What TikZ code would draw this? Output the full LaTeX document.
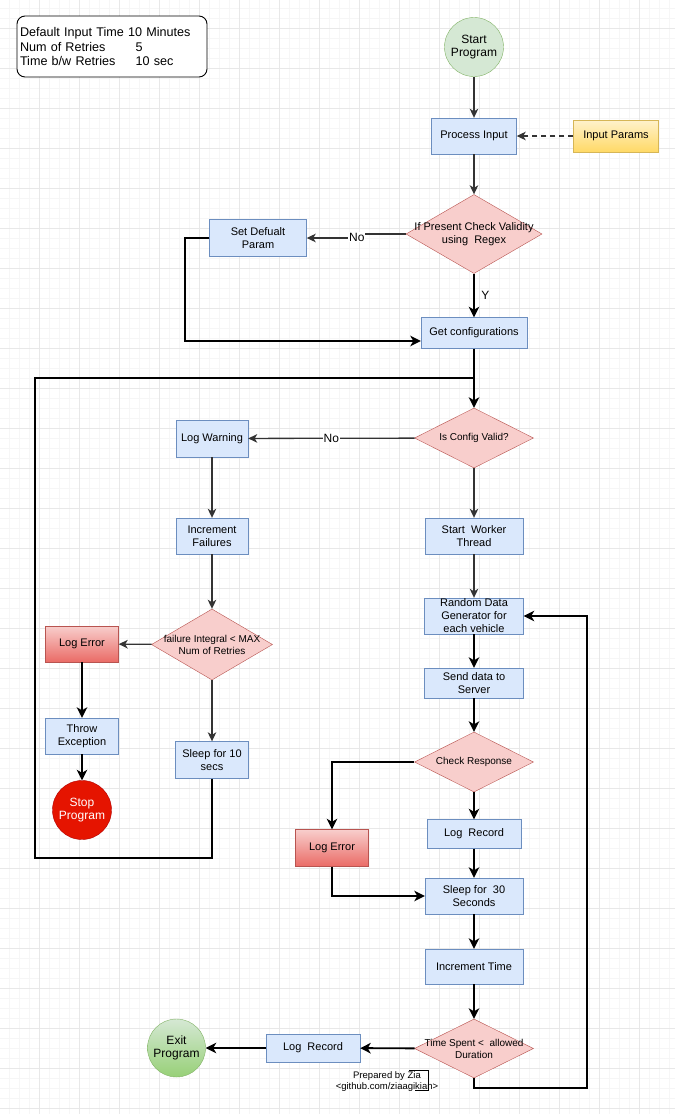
\documentclass[tikz,border=0pt]{standalone}
\usepackage{fontspec}
\setmainfont{Liberation Sans}
\usetikzlibrary{arrows.meta,shapes.geometric}

\definecolor{boxfill}{HTML}{DAE8FC}
\definecolor{boxline}{HTML}{6C8EBF}
\definecolor{decfill}{HTML}{F8CECC}
\definecolor{decline}{HTML}{B85450}
\definecolor{errbot}{HTML}{EA6B66}
\definecolor{inptop}{HTML}{FFF2CC}
\definecolor{inpbot}{HTML}{FFD966}
\definecolor{inpline}{HTML}{D6B656}
\definecolor{okfill}{HTML}{D5E8D4}
\definecolor{okbot}{HTML}{97D077}
\definecolor{okline}{HTML}{82B366}
\definecolor{stopfill}{HTML}{E51400}
\definecolor{stopline}{HTML}{B20000}
\definecolor{flowgray}{HTML}{333333}
\definecolor{gminor}{HTML}{F6F6F6}
\definecolor{gmajor}{HTML}{E8E8E8}

\tikzset{
  pbox/.style={draw=boxline, fill=boxfill, align=center, inner sep=0pt,
    font=\fontsize{11}{13}\selectfont},
  ebox/.style={pbox, draw=decline, top color=decfill, bottom color=errbot},
  dbox/.style={diamond, draw=decline, fill=decfill, inner sep=0pt},
  dtxt/.style={align=center, font=\fontsize{10}{12}\selectfont},
  term/.style={circle, inner sep=0pt, minimum size=59pt, align=center,
    font=\fontsize{12}{13.6}\selectfont},
  lbl/.style={fill=white, inner sep=1pt, font=\fontsize{12}{14}\selectfont},
  flow/.style={draw=flowgray, line width=1.3pt,
    -{Stealth[length=9pt, width=8.5pt, inset=2.5pt]}},
  bflow/.style={draw=black, line width=1.9pt,
    -{Stealth[length=10.5pt, width=10.5pt, inset=3pt]}},
  bline/.style={draw=black, line width=1.9pt},
}

\begin{document}
\begin{tikzpicture}[x=1pt, y=-1pt]
\useasboundingbox (0,0) rectangle (675,1114);
\fill[white] (0,0) rectangle (675,1114);
% grid
\foreach \x in {9,19,...,669} \draw[gminor, line width=0.8pt] (\x,0) -- (\x,1114);
\foreach \y in {8,18,...,1108} \draw[gminor, line width=0.8pt] (0,\y) -- (675,\y);
\foreach \x in {39,79,...,639} \draw[gmajor, line width=0.8pt] (\x,0) -- (\x,1114);
\foreach \y in {28,68,...,1108} \draw[gmajor, line width=0.8pt] (0,\y) -- (675,\y);

% legend
\node[draw, fill=white, rounded corners=8pt, line width=0.9pt, minimum width=190pt,
  minimum height=61pt, inner sep=0pt, text width=184pt, align=left,
  font=\fontsize{12.6}{14.5}\selectfont] (legend) at (112,46.5)
  {Default Input Time 10 Minutes\\
   \makebox[115.7pt][l]{Num of Retries}5\\
   \makebox[115.7pt][l]{Time b/w Retries}10 sec};

% top part
\node[term, draw=okline, fill=okfill] (start) at (474,47) {Start\\Program};
\node[pbox, minimum width=85pt, minimum height=36pt] (procin) at (474,136) {Process Input};
\node[pbox, draw=inpline, top color=inptop, bottom color=inpbot,
  minimum width=85pt, minimum height=32pt] (params) at (616,136) {Input Params};
\node[dbox, minimum width=136pt, minimum height=79pt,
  label={[align=center, font=\fontsize{11}{13.3}\selectfont]center:If Present Check Validity\\using\ \ Regex}]
  (check) at (474,234) {};
\node[pbox, minimum width=97pt, minimum height=37pt] (setdef) at (258,238) {Set Defualt\\Param};
\node[pbox, minimum width=106pt, minimum height=31pt] (getcfg) at (474,333) {Get configurations};
\coordinate (join) at (474,378);

% config check
\node[dbox, minimum width=119pt, minimum height=60pt,
  label={[dtxt]center:Is Config Valid?}] (cfgok) at (474,438) {};
\node[pbox, minimum width=72pt, minimum height=37pt] (logwarn) at (212,438.5) {Log Warning};
\node[pbox, minimum width=72pt, minimum height=36pt] (incfail) at (212,536) {Increment\\Failures};
\node[pbox, minimum width=98pt, minimum height=36pt] (worker) at (474,536) {Start\ \ Worker\\Thread};

% retry branch
\node[dbox, minimum width=121pt, minimum height=71pt,
  label={[dtxt]center:failure Integral < MAX\\Num of Retries}] (retry) at (212,644.5) {};
\node[ebox, minimum width=73pt, minimum height=36pt] (logerr) at (82,644) {Log Error};
\node[pbox, minimum width=73pt, minimum height=36pt] (throw) at (82,736) {Throw\\Exception};
\node[term, draw=stopline, fill=stopfill, text=white] (stop) at (82,810) {Stop\\Program};
\node[pbox, minimum width=73pt, minimum height=37pt] (sleepten) at (212,760) {Sleep for 10\\secs};

% worker loop
\node[pbox, minimum width=99pt, minimum height=36pt] (gendata) at (474,616) {Random Data\\Generator for\\each vehicle};
\node[pbox, minimum width=99pt, minimum height=30pt] (send) at (474,683) {Send data to\\Server};
\node[dbox, minimum width=119pt, minimum height=60pt,
  label={[dtxt]center:Check Response}] (resp) at (474,762) {};
\node[ebox, minimum width=73pt, minimum height=37pt] (resperr) at (332,848) {Log Error};
\node[pbox, minimum width=94pt, minimum height=29pt] (record) at (474,834) {Log\ \ Record};
\node[pbox, minimum width=98pt, minimum height=36pt] (sleepthirty) at (474,896) {Sleep for\ \ 30\\Seconds};
\node[pbox, minimum width=98pt, minimum height=35pt] (inctime) at (474,966.5) {Increment Time};
\node[dbox, minimum width=119pt, minimum height=59pt,
  label={[dtxt]center:Time Spent <\ \ allowed\\Duration}] (timeup) at (474,1048.5) {};
\node[pbox, minimum width=94pt, minimum height=28pt] (lastrec) at (313,1048) {Log\ \ Record};
\node[term, draw=okline, top color=okfill, bottom color=okbot, minimum size=58pt] (exit) at (176.5,1048) {Exit\\Program};
\node[align=center, inner sep=0pt, font=\fontsize{9.5}{11.6}\selectfont] (credit) at (387,1081.5)
  {Prepared by Zia\\<github.com/ziaagikian>};
\draw[line width=0.8pt] (409,1070.5) -- (428,1070.5) -- (428,1090) -- (415,1090);

% connectors
\draw[flow] (start) -- (procin);
\draw[flow, dashed, dash pattern=on 5pt off 4pt] (params) -- (procin);
\draw[flow] (procin) -- (check);
\draw[flow] (check.west) -- ++(-42,0) node[lbl, xshift=-7pt, yshift=-3pt] {No} |- (setdef.east);
\draw[bflow] (check) -- node[right=3pt, font=\fontsize{12}{14}\selectfont] {Y} (getcfg);
\draw[bflow] (setdef.west) -- ++(-24,0) |- ([yshift=-8pt]getcfg.west);
\draw[bflow] (getcfg) -- (cfgok);
\draw[flow] (cfgok) -- node[lbl] {No} (logwarn);
\draw[flow] (logwarn) -- (incfail);
\draw[flow] (cfgok) -- (worker);
\draw[flow] (worker) -- (gendata);
\draw[flow] (incfail) -- (retry);
\draw[flow] (retry) -- (logerr);
\draw[flow] (retry) -- (sleepten);
\draw[bflow] (logerr) -- (throw);
\draw[bflow] (throw) -- (stop);
\draw[bline] (sleepten.south) |- (35,858) |- (join);
\draw[bflow] (gendata) -- (send);
\draw[bflow] (send) -- (resp);
\draw[bflow] (resp.west) -| (resperr.north);
\draw[bflow] (resp) -- (record);
\draw[bflow] (record) -- (sleepthirty);
\draw[bflow] (resperr.south) |- (sleepthirty.west);
\draw[bflow] (sleepthirty) -- (inctime);
\draw[bflow] (inctime) -- (timeup);
\draw[bflow] (timeup) -- (lastrec);
\draw[bflow] (lastrec) -- (exit);
\draw[bflow] (timeup.south) |- (587,1088) |- (gendata.east);
\end{tikzpicture}
\end{document}
